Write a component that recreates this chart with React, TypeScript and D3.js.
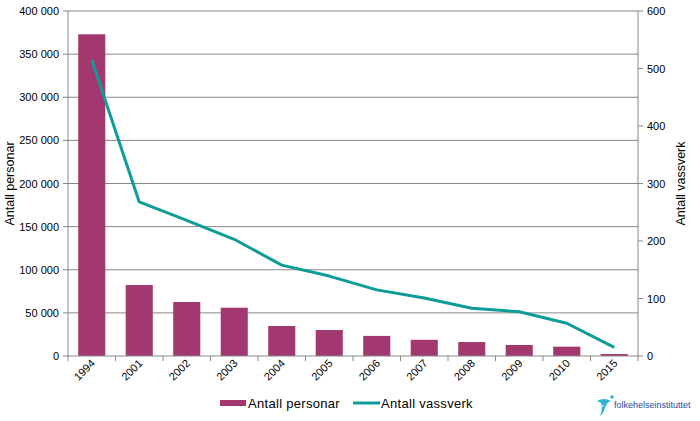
import React from "react";
import * as d3 from "d3";

const categories = ["1994", "2001", "2002", "2003", "2004", "2005", "2006", "2007", "2008", "2009", "2010", "2015"];
const personar = [373000, 82300, 62600, 56000, 34800, 30100, 23300, 18800, 16200, 12800, 10800, 2300];
const vassverk = [515, 268, 236, 203, 158, 139, 115, 101, 83, 77, 57, 15];
const leftTicks = [0, 50000, 100000, 150000, 200000, 250000, 300000, 350000, 400000];
const rightTicks = [0, 100, 200, 300, 400, 500, 600];

const W = 700, H = 421;
const L = 68, R = 638, T = 11, B = 356;
const BAR = "#A3386E";
const LINE = "#0E9C98";
const GRID = "#888888";
const FONT = "Liberation Sans, Arial, sans-serif";

const fmt = (v: number) => (v === 0 ? "0" : d3.format(",")(v).replace(/,/g, " "));

export default function App() {
  const x = d3.scaleBand<string>().domain(categories).range([L, R]).paddingInner(0.43).paddingOuter(0.215);
  const xb = d3.scaleBand<string>().domain(categories).range([L, R]);
  const yL = d3.scaleLinear().domain([0, 400000]).range([B, T]);
  const yR = d3.scaleLinear().domain([0, 600]).range([B, T]);
  const line = d3
    .line<number>()
    .x((_, i) => (xb(categories[i]) as number) + xb.bandwidth() / 2)
    .y((d) => yR(d));

  return (
    <svg width={W} height={H} style={{ position: "absolute", left: 0, top: 0, background: "#fff" }} fontFamily={FONT}>
      <rect x={0} y={0} width={W} height={H} fill="#fff" />
      {leftTicks.map((t) => (
        <g key={"l" + t}>
          {t > 0 && <line x1={L} x2={R} y1={yL(t)} y2={yL(t)} stroke={GRID} strokeWidth={1} />}
          <line x1={L - 5} x2={L} y1={yL(t)} y2={yL(t)} stroke={GRID} />
          <text x={59} y={yL(t) + 4} textAnchor="end" fontSize={11} fill="#000">
            {fmt(t)}
          </text>
        </g>
      ))}
      {rightTicks.map((t) => (
        <g key={"r" + t}>
          <line x1={R} x2={R + 5} y1={yR(t)} y2={yR(t)} stroke={GRID} />
          <text x={647} y={yR(t) + 4} textAnchor="start" fontSize={11} fill="#000">
            {t}
          </text>
        </g>
      ))}
      {categories.map((c, i) => (
        <rect key={c} x={x(c)} y={yL(personar[i])} width={x.bandwidth()} height={B - yL(personar[i])} fill={BAR} />
      ))}
      <line x1={L} x2={L} y1={T} y2={B} stroke={GRID} />
      <line x1={R} x2={R} y1={T} y2={B} stroke={GRID} />
      <line x1={L} x2={R} y1={B} y2={B} stroke={GRID} />
      {categories.map((c, i) => (
        <line key={"xt" + c} x1={(xb(c) as number)} x2={(xb(c) as number)} y1={B} y2={B + 5} stroke={GRID} />
      ))}
      <line x1={R} x2={R} y1={B} y2={B + 5} stroke={GRID} />
      {categories.map((c) => {
        const cx = (xb(c) as number) + xb.bandwidth() / 2 + 4;
        return (
          <text key={"xl" + c} x={cx} y={364} textAnchor="end" fontSize={11} fill="#000" transform={`rotate(-45 ${cx} 364)`}>
            {c}
          </text>
        );
      })}
      <path d={line(vassverk) || ""} fill="none" stroke={LINE} strokeWidth={3} strokeLinejoin="round" />
      <text transform={`translate(14 ${(T + B) / 2}) rotate(-90)`} textAnchor="middle" fontSize={12.5} fill="#000">
        Antall personar
      </text>
      <text transform={`translate(685 ${(T + B) / 2}) rotate(-90)`} textAnchor="middle" fontSize={12.5} fill="#000">
        Antall vassverk
      </text>
      <rect x={220} y={400} width={26} height={6} fill={BAR} />
      <text x={248} y={408} fontSize={13} fill="#000" letterSpacing={0.3}>
        Antall personar
      </text>
      <line x1={353} x2={380} y1={403} y2={403} stroke={LINE} strokeWidth={3} />
      <text x={381} y={408} fontSize={13} fill="#000" letterSpacing={0.3}>
        Antall vassverk
      </text>
      <g>
        <path d="M597 401 Q604 397 611 401 Q607 402 605 408 Q603 414 600 416 Q603 408 601 403 Z" fill="#2FB4D2" />
        <circle cx={612} cy={397} r={1.8} fill="#2FB4D2" />
        <circle cx={603} cy={406} r={0.8} fill="#fff" />
        <text x={614} y={408} fontSize={9} fill="#2A4B9B">
          folkehelseinstituttet
        </text>
      </g>
    </svg>
  );
}
